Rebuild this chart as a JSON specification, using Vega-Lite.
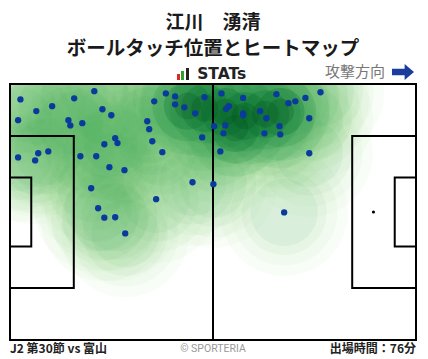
{
  "$schema": "https://vega.github.io/schema/vega-lite/v6.json",
  "width": 406,
  "height": 256,
  "autosize": {"type": "none"},
  "padding": {"left": 10, "top": 84, "right": 12, "bottom": 19},
  "background": "white",
  "config": {"view": {"stroke": null}, "axis": {"disable": true}},
  "datasets": {
    "touches": [
      {"x": 2.7, "y": 63.9}, {"x": 21.8, "y": 66.1}, {"x": 16.6, "y": 64.2}, {"x": 10.9, "y": 62.1},
      {"x": 6.8, "y": 60.8}, {"x": 2.1, "y": 58.4}, {"x": 15.1, "y": 58.4}, {"x": 15.6, "y": 57.0},
      {"x": 18.7, "y": 57.6}, {"x": 23.9, "y": 61.3}, {"x": 26.2, "y": 59.7}, {"x": 40.3, "y": 65.5},
      {"x": 42.7, "y": 64.7}, {"x": 37.3, "y": 63.4}, {"x": 42.7, "y": 62.6}, {"x": 45.1, "y": 61.8},
      {"x": 47.9, "y": 60.2}, {"x": 50.3, "y": 64.5}, {"x": 35.5, "y": 58.1}, {"x": 36.0, "y": 56.0},
      {"x": 36.8, "y": 52.8}, {"x": 27.2, "y": 53.6}, {"x": 27.8, "y": 52.3}, {"x": 24.4, "y": 52.0},
      {"x": 39.4, "y": 49.9}, {"x": 49.7, "y": 53.8}, {"x": 2.1, "y": 48.5}, {"x": 7.3, "y": 49.6},
      {"x": 6.5, "y": 47.7}, {"x": 9.9, "y": 50.1}, {"x": 18.2, "y": 48.8}, {"x": 22.3, "y": 48.8},
      {"x": 25.7, "y": 45.9}, {"x": 29.6, "y": 45.1}, {"x": 47.2, "y": 41.9}, {"x": 52.6, "y": 41.4},
      {"x": 21.0, "y": 40.3}, {"x": 37.8, "y": 37.4}, {"x": 22.8, "y": 35.0}, {"x": 24.4, "y": 32.5},
      {"x": 27.2, "y": 32.6}, {"x": 29.8, "y": 28.3}, {"x": 70.9, "y": 33.9}, {"x": 54.7, "y": 65.5},
      {"x": 60.3, "y": 64.3}, {"x": 68.9, "y": 65.3}, {"x": 80.3, "y": 65.8}, {"x": 76.4, "y": 64.3},
      {"x": 73.8, "y": 63.4}, {"x": 72.0, "y": 62.9}, {"x": 56.6, "y": 62.1}, {"x": 55.9, "y": 61.4},
      {"x": 60.3, "y": 60.2}, {"x": 60.3, "y": 59.7}, {"x": 64.7, "y": 60.8}, {"x": 66.3, "y": 58.9},
      {"x": 77.4, "y": 58.9}, {"x": 52.8, "y": 56.8}, {"x": 55.7, "y": 57.0}, {"x": 55.2, "y": 54.9},
      {"x": 65.8, "y": 54.9}, {"x": 69.7, "y": 56.8}, {"x": 69.9, "y": 54.6}, {"x": 54.4, "y": 50.1},
      {"x": 77.4, "y": 49.6}
    ],
    "core": [
      {"x": 50.4, "y": 61.6}, {"x": 55.6, "y": 60.6}, {"x": 60.8, "y": 59.5}, {"x": 66.0, "y": 60.0},
      {"x": 46.0, "y": 62.2}, {"x": 70.0, "y": 60.6}, {"x": 58.2, "y": 56.3}
    ],
    "boxes": [
      {"x": 0, "x2": 105, "y": 0, "y2": 68},
      {"x": 0, "x2": 16.5, "y": 13.84, "y2": 54.16},
      {"x": 0, "x2": 5.5, "y": 24.84, "y2": 43.16},
      {"x": 88.5, "x2": 105, "y": 13.84, "y2": 54.16},
      {"x": 99.5, "x2": 105, "y": 24.84, "y2": 43.16}
    ]
  },
  "data": {"name": "touches"},
  "layer": [
    {
      "mark": {"type": "point", "shape": "circle", "filled": true, "size": 16286, "color": "#c7e9c0", "opacity": 0.11, "clip": true, "strokeWidth": 0},
      "encoding": {
        "x": {"field": "x", "type": "quantitative", "scale": {"domain": [0, 105], "nice": false, "zero": false}},
        "y": {"field": "y", "type": "quantitative", "scale": {"domain": [0, 68], "nice": false, "zero": false}}
      }
    },
    {
      "mark": {"type": "point", "shape": "circle", "filled": true, "size": 11310, "color": "#a1d99b", "opacity": 0.09, "clip": true, "strokeWidth": 0},
      "encoding": {"x": {"field": "x", "type": "quantitative"}, "y": {"field": "y", "type": "quantitative"}}
    },
    {
      "mark": {"type": "point", "shape": "circle", "filled": true, "size": 7238, "color": "#74c476", "opacity": 0.08, "clip": true, "strokeWidth": 0},
      "encoding": {"x": {"field": "x", "type": "quantitative"}, "y": {"field": "y", "type": "quantitative"}}
    },
    {
      "mark": {"type": "point", "shape": "circle", "filled": true, "size": 4536, "color": "#41ab5d", "opacity": 0.075, "clip": true, "strokeWidth": 0},
      "encoding": {"x": {"field": "x", "type": "quantitative"}, "y": {"field": "y", "type": "quantitative"}}
    },
    {
      "data": {"name": "core"},
      "mark": {"type": "point", "shape": "circle", "filled": true, "size": 9503, "color": "#41ab5d", "opacity": 0.15, "clip": true, "strokeWidth": 0},
      "encoding": {"x": {"field": "x", "type": "quantitative"}, "y": {"field": "y", "type": "quantitative"}}
    },
    {
      "data": {"name": "core"},
      "mark": {"type": "point", "shape": "circle", "filled": true, "size": 5027, "color": "#238b45", "opacity": 0.2, "clip": true, "strokeWidth": 0},
      "encoding": {"x": {"field": "x", "type": "quantitative"}, "y": {"field": "y", "type": "quantitative"}}
    },
    {
      "data": {"name": "core"},
      "mark": {"type": "point", "shape": "circle", "filled": true, "size": 2290, "color": "#006d2c", "opacity": 0.25, "clip": true, "strokeWidth": 0},
      "encoding": {"x": {"field": "x", "type": "quantitative"}, "y": {"field": "y", "type": "quantitative"}}
    },
    {
      "data": {"name": "core"},
      "mark": {"type": "point", "shape": "circle", "filled": true, "size": 707, "color": "#00441b", "opacity": 0.2, "clip": true, "strokeWidth": 0},
      "encoding": {"x": {"field": "x", "type": "quantitative"}, "y": {"field": "y", "type": "quantitative"}}
    },
    {
      "data": {"name": "boxes"},
      "mark": {"type": "rect", "filled": false, "stroke": "black", "strokeWidth": 2},
      "encoding": {
        "x": {"field": "x", "type": "quantitative"}, "x2": {"field": "x2"},
        "y": {"field": "y", "type": "quantitative"}, "y2": {"field": "y2"}
      }
    },
    {
      "data": {"values": [{}]},
      "mark": {"type": "rule", "color": "black", "strokeWidth": 2},
      "encoding": {"x": {"datum": 52.5}, "y": {"datum": 0}, "y2": {"datum": 68}}
    },
    {
      "data": {"values": [{}]},
      "mark": {"type": "point", "shape": "circle", "filled": true, "size": 10, "color": "black", "opacity": 1},
      "encoding": {"x": {"datum": 94}, "y": {"datum": 34}}
    },
    {
      "mark": {"type": "point", "shape": "circle", "filled": true, "size": 40, "color": "#0a3a9c", "opacity": 1, "strokeWidth": 0},
      "encoding": {"x": {"field": "x", "type": "quantitative"}, "y": {"field": "y", "type": "quantitative"}}
    },
    {
      "data": {"values": [{}]},
      "mark": {"type": "text", "text": "江川　湧清", "font": "Noto Sans CJK JP", "fontWeight": "bold", "fontSize": 19, "color": "#1a1a1a", "align": "center", "baseline": "middle"},
      "encoding": {"x": {"datum": 52.5}, "y": {"datum": 84.3}}
    },
    {
      "data": {"values": [{}]},
      "mark": {"type": "text", "text": "ボールタッチ位置とヒートマップ", "font": "Noto Sans CJK JP", "fontWeight": "bold", "fontSize": 19.5, "color": "#1a1a1a", "align": "center", "baseline": "middle"},
      "encoding": {"x": {"datum": 52.5}, "y": {"datum": 77.4}}
    },
    {
      "data": {"values": [{}]},
      "mark": {"type": "rect", "color": "#e0262b"},
      "encoding": {"x": {"datum": 43.19}, "x2": {"datum": 43.96}, "y": {"datum": 69.06}, "y2": {"datum": 70.66}}
    },
    {
      "data": {"values": [{}]},
      "mark": {"type": "rect", "color": "#2ca02c"},
      "encoding": {"x": {"datum": 44.22}, "x2": {"datum": 44.99}, "y": {"datum": 69.06}, "y2": {"datum": 71.45}}
    },
    {
      "data": {"values": [{}]},
      "mark": {"type": "rect", "color": "#222222"},
      "encoding": {"x": {"datum": 45.52}, "x2": {"datum": 46.29}, "y": {"datum": 69.06}, "y2": {"datum": 72.25}}
    },
    {
      "data": {"values": [{}]},
      "mark": {"type": "text", "text": "STATs", "font": "DejaVu Sans", "fontWeight": "bold", "fontSize": 15.5, "color": "#222222", "align": "left", "baseline": "middle"},
      "encoding": {"x": {"datum": 48.4}, "y": {"datum": 70.6}}
    },
    {
      "data": {"values": [{}]},
      "mark": {"type": "text", "text": "攻撃方向", "font": "Noto Sans CJK JP", "fontSize": 15, "color": "#777777", "align": "right", "baseline": "middle"},
      "encoding": {"x": {"datum": 96.98}, "y": {"datum": 71.1}}
    },
    {
      "data": {"values": [{}]},
      "mark": {"type": "point", "shape": "M-1,-0.3L0.15,-0.3L0.15,-0.73L1,0L0.15,0.73L0.15,0.3L-1,0.3Z", "filled": true, "size": 484, "color": "#1a3d9b", "opacity": 1, "strokeWidth": 0},
      "encoding": {"x": {"datum": 101.63}, "y": {"datum": 71.2}}
    },
    {
      "data": {"values": [{}]},
      "mark": {"type": "text", "text": "J2 第30節 vs 富山", "font": "Noto Sans CJK JP", "fontWeight": "bold", "fontSize": 12, "color": "#222222", "align": "left", "baseline": "middle"},
      "encoding": {"x": {"datum": 0}, "y": {"datum": -2.5}}
    },
    {
      "data": {"values": [{}]},
      "mark": {"type": "text", "text": "© SPORTERIA", "font": "Roboto", "fontSize": 10.5, "color": "#999999", "align": "center", "baseline": "middle"},
      "encoding": {"x": {"datum": 52.5}, "y": {"datum": -2.3}}
    },
    {
      "data": {"values": [{}]},
      "mark": {"type": "text", "text": "出場時間：76分", "font": "Noto Sans CJK JP", "fontWeight": "bold", "fontSize": 12, "color": "#222222", "align": "right", "baseline": "middle"},
      "encoding": {"x": {"datum": 105}, "y": {"datum": -2.5}}
    }
  ]
}
